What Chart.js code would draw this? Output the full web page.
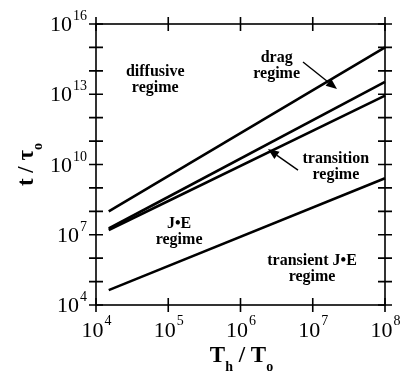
<!DOCTYPE html>
<html>
<head>
<meta charset="utf-8">
<script src="https://cdn.jsdelivr.net/npm/chart.js@4.4.1/dist/chart.umd.min.js"></script>
<style>
  html, body { margin: 0; padding: 0; background: #fff; }
  #wrap { width: 401px; height: 375px; position: relative; }
</style>
</head>
<body>
<div id="wrap"><canvas id="c"></canvas></div>
<script>
// Temperature ratio T_h / T_o at the two ends of each regime boundary
const tempRatio = [1.5e4, 1e8];
// Time ratio t / tau_o along each boundary line
const dragBoundary = [1e8, 1e15];
const transitionUpper = [1.85e7, 3.4e13];
const transitionLower = [1.6e7, 8.7e12];
const transientBoundary = [4.3e4, 2.6e9];

// Axis decades (exponents of ten)
const xDecades = [4, 5, 6, 7, 8];
const yDecades = [4, 5, 6, 7, 8, 9, 10, 11, 12, 13, 14, 15, 16];
const yLabelDecades = [4, 7, 10, 13, 16];

// Regime names, placed at log10 coordinates (x, y of first line baseline)
const regimeLabels = [
  { lines: ['diffusive', 'regime'], x: 4.82, y: 13.78 },
  { lines: ['drag', 'regime'], x: 6.50, y: 14.38 },
  { lines: ['transition', 'regime'], x: 7.32, y: 10.06 },
  { lines: ['J\u2022E', 'regime'], x: 5.15, y: 7.28 },
  { lines: ['transient J\u2022E', 'regime'], x: 6.99, y: 5.70 }
];
// Pointer arrows in log10 coordinates: tail -> tip
const pointers = [
  { from: [6.865, 14.38], to: [7.336, 13.22] },
  { from: [6.796, 9.76], to: [6.38, 10.66] }
];

const SERIF = "'Liberation Serif', 'Times New Roman', serif";

function series(ys) {
  return tempRatio.map((x, i) => ({ x: x, y: ys[i] }));
}
function lineSet(ys) {
  return {
    data: series(ys),
    borderColor: '#000',
    borderWidth: 2.6,
    pointRadius: 0,
    fill: false,
    tension: 0,
    clip: false
  };
}

const frame = {
  id: 'frame',
  afterDraw(chart) {
    const ctx = chart.ctx;
    const xs = chart.scales.x, ys = chart.scales.y;
    const a = chart.chartArea;
    const X = e => xs.getPixelForValue(Math.pow(10, e));
    const Y = e => ys.getPixelForValue(Math.pow(10, e));
    ctx.save();
    ctx.strokeStyle = '#000';
    ctx.fillStyle = '#000';
    ctx.lineWidth = 1.6;
    ctx.strokeRect(a.left, a.top, a.right - a.left, a.bottom - a.top);

    // crossing tick marks on all four sides
    const t = 7;
    ctx.beginPath();
    xDecades.forEach(e => {
      const px = X(e);
      ctx.moveTo(px, a.bottom - t); ctx.lineTo(px, a.bottom + t);
      ctx.moveTo(px, a.top - t); ctx.lineTo(px, a.top + t);
    });
    yDecades.forEach(e => {
      const py = Y(e);
      ctx.moveTo(a.left - t, py); ctx.lineTo(a.left + t, py);
      ctx.moveTo(a.right - t, py); ctx.lineTo(a.right + t, py);
    });
    ctx.stroke();

    // power-of-ten tick labels
    const baseFont = '22px ' + SERIF;
    const supFont = '14px ' + SERIF;
    ctx.textBaseline = 'alphabetic';
    ctx.textAlign = 'left';
    xDecades.forEach(e => {
      ctx.font = baseFont;
      const w1 = ctx.measureText('10').width;
      ctx.font = supFont;
      const w2 = ctx.measureText(String(e)).width;
      const x0 = X(e) - (w1 + w2) / 2;
      ctx.font = baseFont;
      ctx.fillText('10', x0, a.bottom + 32);
      ctx.font = supFont;
      ctx.fillText(String(e), x0 + w1 + 1, a.bottom + 20);
    });
    yLabelDecades.forEach(e => {
      ctx.font = supFont;
      const w2 = ctx.measureText(String(e)).width;
      ctx.font = baseFont;
      const w1 = ctx.measureText('10').width;
      const right = a.left - 9;
      const py = Y(e);
      ctx.fillText('10', right - w2 - 1 - w1, py + 7);
      ctx.font = supFont;
      ctx.fillText(String(e), right - w2, py - 4);
    });

    // axis titles
    const titleFont = 'bold 23px ' + SERIF;
    const subFont = 'bold 14px ' + SERIF;
    function subText(parts, x, y) {
      let w = 0;
      parts.forEach(p => { ctx.font = p.sub ? subFont : titleFont; w += ctx.measureText(p.t).width; });
      let cx = x - w / 2;
      parts.forEach(p => {
        ctx.font = p.sub ? subFont : titleFont;
        ctx.fillText(p.t, cx, y + (p.sub ? 9 : 0));
        cx += ctx.measureText(p.t).width;
      });
    }
    subText([{ t: 'T' }, { t: 'h', sub: true }, { t: ' / ' }, { t: 'T' }, { t: 'o', sub: true }],
      (a.left + a.right) / 2 + 1, a.bottom + 57);
    ctx.save();
    ctx.translate(33, (a.top + a.bottom) / 2);
    ctx.rotate(-Math.PI / 2);
    subText([{ t: 't / \u03C4' }, { t: 'o', sub: true }], 0, 0);
    ctx.restore();

    // regime names
    ctx.font = 'bold 16px ' + SERIF;
    ctx.textAlign = 'center';
    regimeLabels.forEach(l => {
      const px = X(l.x), py = Y(l.y);
      l.lines.forEach((s, i) => ctx.fillText(s, px, py + i * 16));
    });

    // pointer arrows
    ctx.lineWidth = 1.4;
    pointers.forEach(p => {
      const x1 = X(p.from[0]), y1 = Y(p.from[1]);
      const x2 = X(p.to[0]), y2 = Y(p.to[1]);
      const ang = Math.atan2(y2 - y1, x2 - x1);
      const L = 11, H = 4.5;
      const bx = x2 - L * Math.cos(ang), by = y2 - L * Math.sin(ang);
      ctx.beginPath();
      ctx.moveTo(x1, y1); ctx.lineTo(bx, by);
      ctx.stroke();
      ctx.beginPath();
      ctx.moveTo(x2, y2);
      ctx.lineTo(bx + H * Math.sin(ang), by - H * Math.cos(ang));
      ctx.lineTo(bx - H * Math.sin(ang), by + H * Math.cos(ang));
      ctx.closePath();
      ctx.fill();
    });
    ctx.restore();
  }
};

const hiddenAxis = (min, max) => ({
  type: 'logarithmic',
  min: min,
  max: max,
  grid: { display: false, drawTicks: false },
  border: { display: false },
  ticks: { display: false },
  title: { display: false }
});

new Chart(document.getElementById('c'), {
  type: 'line',
  data: {
    datasets: [
      lineSet(dragBoundary),
      lineSet(transitionUpper),
      lineSet(transitionLower),
      lineSet(transientBoundary)
    ]
  },
  options: {
    responsive: true,
    maintainAspectRatio: false,
    animation: false,
    layout: { padding: { left: 96, right: 16, top: 24, bottom: 70 } },
    plugins: { legend: { display: false }, tooltip: { enabled: false } },
    scales: {
      x: hiddenAxis(1e4, 1e8),
      y: hiddenAxis(1e4, 1e16)
    }
  },
  plugins: [frame]
});
</script>
</body>
</html>
